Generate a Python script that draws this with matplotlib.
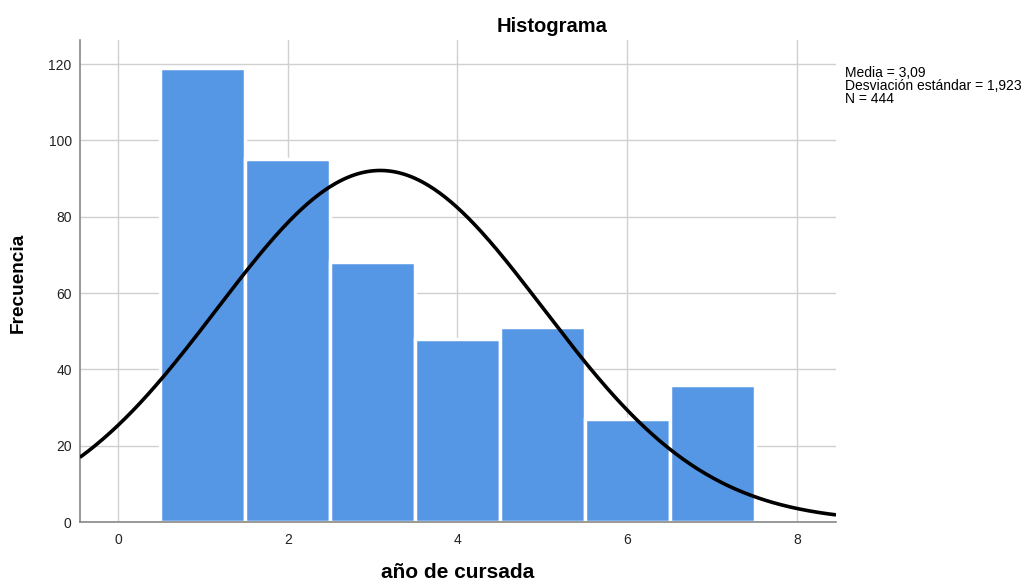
import numpy as np
import matplotlib
matplotlib.use("Agg")
import matplotlib.pyplot as plt

plt.rcParams['font.family'] = ['Liberation Sans', 'DejaVu Sans']

years = [1, 2, 3, 4, 5, 6, 7]
counts = [119, 95, 68, 48, 51, 27, 36]
mean = 3.09
sd = 1.923
n = 444
xticks = [0, 2, 4, 6, 8]
yticks = [0, 20, 40, 60, 80, 100, 120]

fig = plt.figure(figsize=(10.32, 5.8), dpi=100)
ax = fig.add_axes([80/1032, 58/580, (836-80)/1032, (522-40)/580])

ax.bar(years, counts, width=1.0, color='#5596E5', edgecolor='white', linewidth=2.5, zorder=2)

xs = np.linspace(-0.45, 8.46, 400)
ys = n * 1.0 * np.exp(-0.5 * ((xs - mean) / sd) ** 2) / (sd * np.sqrt(2 * np.pi))
ax.plot(xs, ys, color='black', linewidth=2.6, zorder=3, solid_capstyle='butt')

ax.set_xlim(-0.448, 8.46)
ax.set_ylim(0, 126.3)
ax.set_xticks(xticks)
ax.set_yticks(yticks)
ax.grid(True, color='#d0d0d0', linewidth=1.0, zorder=0)
ax.set_axisbelow(True)
for s in ['top', 'right']:
    ax.spines[s].set_visible(False)
for s in ['left', 'bottom']:
    ax.spines[s].set_color('#888888')
    ax.spines[s].set_linewidth(1.2)
ax.tick_params(length=0, labelsize=10, colors='#222222', pad=8)
ax.tick_params(axis='y', pad=6)

fig.text(552/1032, 1 - 26/580, 'Histograma', ha='center', va='center', fontsize=14.5, fontweight='bold')
fig.text(18/1032, 1 - 283/580, 'Frecuencia', ha='center', va='center', rotation=90, fontsize=13.7, fontweight='bold')
fig.text(458/1032, 1 - 572/580, 'año de cursada', ha='center', va='center', fontsize=15, fontweight='bold')
stats = f"Media = {mean:.2f}".replace('.', ',') + "\n" + f"Desviación estándar = {sd:.3f}".replace('.', ',') + "\n" + f"N = {n}"
fig.text(845/1032, 1 - 66/580, stats, ha='left', va='top', fontsize=10, linespacing=0.93)

fig.savefig('out.png', dpi=100)
